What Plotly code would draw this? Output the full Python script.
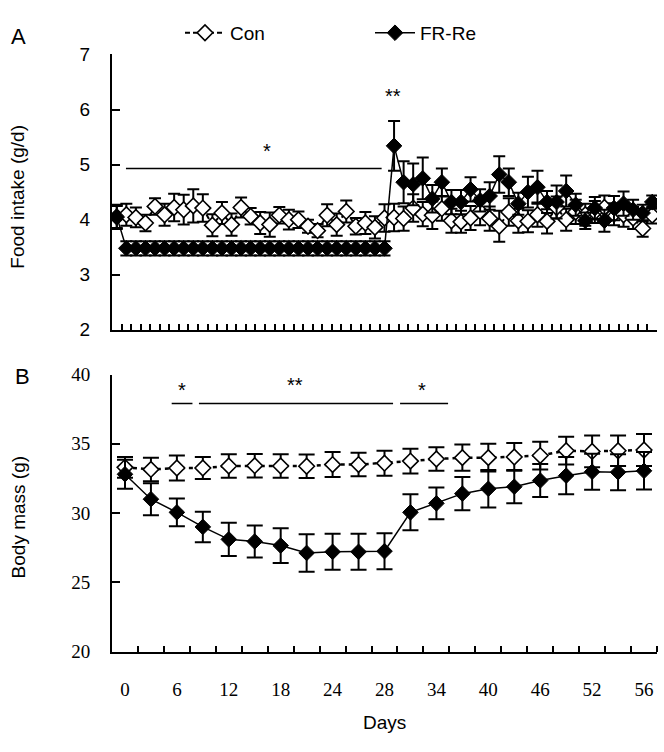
import plotly.graph_objects as go

# ---------------- data ----------------
# Panel A: food intake (g/d), days 0..56
fi_days = list(range(57))
fi_con = [4.05, 4.09, 4.04, 3.94, 4.24, 4.09, 4.22, 4.18, 4.25, 4.21,
          3.90, 4.12, 3.91, 4.22, 4.06, 3.94, 3.91, 4.08, 4.00, 4.00,
          3.88, 3.80, 4.08, 3.91, 4.15, 3.88, 3.94, 3.86, 4.03, 4.04,
          4.02, 4.21, 4.10, 4.08, 4.20, 3.98, 3.96, 4.03, 4.15, 4.02,
          3.88, 4.14, 3.98, 3.97, 4.09, 3.97, 4.22, 4.00, 4.14, 4.09,
          4.14, 4.22, 4.10, 4.09, 4.03, 3.84, 4.08]
fi_con_err = [0.22, 0.20, 0.18, 0.15, 0.15, 0.20, 0.25, 0.27, 0.30, 0.25,
              0.20, 0.20, 0.20, 0.18, 0.15, 0.20, 0.22, 0.15, 0.18, 0.15,
              0.12, 0.12, 0.20, 0.20, 0.20, 0.15, 0.20, 0.20, 0.25, 0.25,
              0.22, 0.25, 0.22, 0.25, 0.22, 0.22, 0.20, 0.22, 0.25, 0.22,
              0.28, 0.25, 0.22, 0.20, 0.22, 0.22, 0.20, 0.20, 0.22, 0.20,
              0.20, 0.22, 0.20, 0.22, 0.20, 0.15, 0.15]
fi_fr = [4.05] + [3.48] * 28 + [
    5.34, 4.68, 4.64, 4.75, 4.38, 4.68, 4.32, 4.32, 4.55, 4.35,
    4.43, 4.82, 4.68, 4.29, 4.50, 4.59, 4.32, 4.32, 4.52, 4.27,
    3.98, 4.21, 3.98, 4.21, 4.29, 4.18, 4.12, 4.32]
fi_fr_err = [0.20] + [0.13] * 28 + [
    0.45, 0.38, 0.38, 0.38, 0.25, 0.25, 0.22, 0.22, 0.22, 0.20,
    0.25, 0.33, 0.25, 0.20, 0.28, 0.30, 0.20, 0.30, 0.28, 0.20,
    0.15, 0.20, 0.20, 0.22, 0.22, 0.18, 0.15, 0.12]

# Panel B: body mass (g), 21 sampling points
bm_idx = list(range(21))
bm_tick_labels = ["0", "6", "12", "18", "24", "28", "34", "40", "46", "52", "56"]
bm_con = [33.30, 33.15, 33.25, 33.25, 33.40, 33.42, 33.40, 33.38, 33.50, 33.50,
          33.60, 33.75, 33.90, 34.00, 34.00, 34.05, 34.15, 34.50, 34.45, 34.50, 34.55]
bm_con_err = [0.75, 0.85, 0.90, 0.80, 0.85, 0.85, 0.85, 0.85, 0.90, 0.85,
              0.90, 0.90, 0.85, 0.95, 1.00, 1.00, 1.00, 1.00, 1.15, 1.10, 1.15]
bm_fr = [32.80, 31.00, 30.05, 29.00, 28.10, 27.95, 27.65, 27.12, 27.20, 27.20,
         27.25, 30.05, 30.70, 31.40, 31.75, 31.90, 32.35, 32.70, 32.98, 32.95, 33.05]
bm_fr_err = [1.05, 1.15, 1.00, 1.10, 1.20, 1.15, 1.25, 1.35, 1.30, 1.30,
             1.30, 1.30, 1.15, 1.20, 1.35, 1.20, 1.20, 1.35, 1.30, 1.30, 1.35]

# ---------------- figure ----------------
W, H = 664, 752
SANS = "Liberation Sans Narrow, Arial Narrow, Liberation Sans, Arial, sans-serif"
SERIF = "Liberation Serif, Times New Roman, serif"

fig = go.Figure()

def err(arr, w):
    return dict(type="data", array=arr, visible=True, color="black",
                thickness=2, width=w)

# Panel A traces
fig.add_trace(go.Scatter(
    x=fi_days, y=fi_con, name="Con", mode="lines+markers",
    line=dict(color="black", width=2, dash="5px,3px"),
    marker=dict(symbol="diamond", size=12, color="white",
                line=dict(color="black", width=1.6)),
    error_y=err(fi_con_err, 6), xaxis="x", yaxis="y", showlegend=True))
fig.add_trace(go.Scatter(
    x=fi_days, y=fi_fr, name="FR-Re", mode="lines+markers",
    line=dict(color="black", width=1.5),
    marker=dict(symbol="diamond", size=12, color="black",
                line=dict(color="black", width=1)),
    error_y=err(fi_fr_err, 6), xaxis="x", yaxis="y", showlegend=True))

# Panel B traces
fig.add_trace(go.Scatter(
    x=bm_idx, y=bm_con, name="Con", mode="lines+markers",
    line=dict(color="black", width=2.5, dash="4px,4px"),
    marker=dict(symbol="diamond", size=12, color="white",
                line=dict(color="black", width=1.6)),
    error_y=err(bm_con_err, 8), xaxis="x2", yaxis="y2", showlegend=False))
fig.add_trace(go.Scatter(
    x=bm_idx, y=bm_fr, name="FR-Re", mode="lines+markers",
    line=dict(color="black", width=1.5),
    marker=dict(symbol="diamond", size=12, color="black",
                line=dict(color="black", width=1)),
    error_y=err(bm_fr_err, 8), xaxis="x2", yaxis="y2", showlegend=False))

xdom = [112 / W, 657 / W]
top_dom = [1 - 329 / H, 1 - 45.7 / H]
bot_dom = [1 - 660 / H, 1 - 375 / H]

axis_common = dict(showline=True, linecolor="black", linewidth=2,
                   showgrid=False, zeroline=False, mirror=False)

fig.update_layout(
    width=W, height=H,
    margin=dict(l=0, r=0, t=0, b=0),
    paper_bgcolor="white", plot_bgcolor="white",
    font=dict(family=SANS, size=18, color="black"),
    xaxis=dict(domain=xdom, range=[-0.5, 56.5], anchor="y",
               tickmode="array", tickvals=[i + 0.5 for i in range(56)],
               ticks="inside", ticklen=6, tickwidth=1.5, tickcolor="black",
               showticklabels=False, **axis_common),
    yaxis=dict(domain=top_dom, range=[2, 7], anchor="x",
               tickmode="array", tickvals=[2, 3, 4, 5, 6, 7],
               ticks="inside", ticklen=8, tickwidth=1.5, tickcolor="black",
               ticklabelstandoff=16,
               tickfont=dict(family=SANS, size=19), **axis_common),
    xaxis2=dict(domain=xdom, range=[-0.5, 20.5], anchor="y2",
                tickmode="array", tickvals=[0, 2, 4, 6, 8, 10, 12, 14, 16, 18, 20],
                ticktext=bm_tick_labels, ticks="",
                ticklabelstandoff=20,
                tickfont=dict(family=SERIF, size=19),
                minor=dict(tickmode="array",
                           tickvals=[i + 0.5 for i in range(21)],
                           ticks="inside", ticklen=6, tickwidth=1.5,
                           tickcolor="black"),
                **axis_common),
    yaxis2=dict(domain=bot_dom, range=[20, 40], anchor="x2",
                tickmode="array", tickvals=[20, 25, 30, 35, 40],
                ticks="inside", ticklen=8, tickwidth=1.5, tickcolor="black",
                ticklabelstandoff=16,
                tickfont=dict(family=SERIF, size=19), **axis_common),
    legend=dict(orientation="h", x=180 / W, y=1 - 4 / H, xanchor="left",
                yanchor="top", font=dict(family=SANS, size=19),
                bgcolor="rgba(0,0,0,0)", itemwidth=40, entrywidth=135),
)

def note(text, x, y, size=19, angle=0, xref="paper", yref="paper", family=SANS):
    return dict(text=text, x=x, y=y, xref=xref, yref=yref, showarrow=False,
                textangle=angle, xanchor="center", yanchor="middle",
                font=dict(size=size, family=family))

annots = [
    note("A", 18 / W, 1 - 27 / H, size=22),
    note("B", 22 / W, 1 - 377 / H, size=22),
    note("Food intake (g/d)", 18 / W, 1 - 192 / H, angle=-90),
    note("Body mass (g)", 18 / W, 1 - 522 / H, angle=-90),
    note("Days", 384 / W, 1 - 733 / H),
    # significance marks
    note("*", 15.7, 5.25, size=20, xref="x", yref="y"),
    note("**", 28.9, 6.25, size=20, xref="x", yref="y"),
    note("*", 2.2, 38.85, size=20, xref="x2", yref="y2"),
    note("**", 6.55, 39.25, size=20, xref="x2", yref="y2"),
    note("*", 11.43, 38.85, size=20, xref="x2", yref="y2"),
]
fig.update_layout(annotations=annots)

shapes = [
    dict(type="line", xref="x", yref="y", x0=0.96, x1=27.7, y0=4.93, y1=4.93,
         line=dict(color="black", width=1.5)),
    dict(type="line", xref="x2", yref="y2", x0=1.8, x1=2.6, y0=37.9, y1=37.9,
         line=dict(color="black", width=1.5)),
    dict(type="line", xref="x2", yref="y2", x0=2.85, x1=10.33, y0=37.9, y1=37.9,
         line=dict(color="black", width=1.5)),
    dict(type="line", xref="x2", yref="y2", x0=10.6, x1=12.45, y0=37.9, y1=37.9,
         line=dict(color="black", width=1.5)),
]
fig.update_layout(shapes=shapes)

fig.write_html(
    "out.html",
    config={"displayModeBar": False},
    post_script="document.body.style.margin='0';document.body.style.overflow='hidden';",
)
